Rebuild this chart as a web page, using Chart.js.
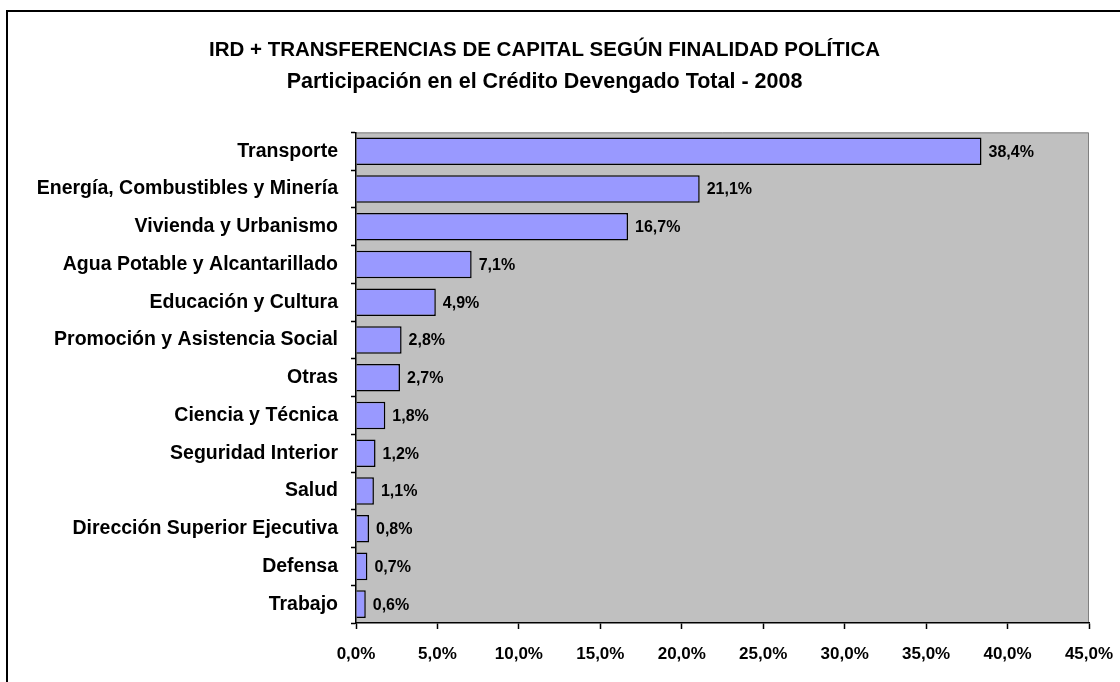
<!DOCTYPE html>
<html>
<head>
<meta charset="utf-8">
<script src="https://cdn.jsdelivr.net/npm/chart.js@4/dist/chart.umd.min.js"></script>
<style>
  html, body { margin: 0; padding: 0; background: #fff; }
  canvas { display: block; }
</style>
</head>
<body>
<canvas id="chart" width="1120" height="682"></canvas>
<script>
const categories = [
    'Transporte',
    'Energía, Combustibles y Minería',
    'Vivienda y Urbanismo',
    'Agua Potable y Alcantarillado',
    'Educación y Cultura',
    'Promoción y Asistencia Social',
    'Otras',
    'Ciencia y Técnica',
    'Seguridad Interior',
    'Salud',
    'Dirección Superior Ejecutiva',
    'Defensa',
    'Trabajo',
]
const shares = [38.4, 21.1, 16.7, 7.1, 4.9, 2.8, 2.7, 1.8, 1.2, 1.1, 0.8, 0.7, 0.6]
const xTicks = [0, 5, 10, 15, 20, 25, 30, 35, 40, 45]

const titleText = 'IRD + TRANSFERENCIAS DE CAPITAL SEGÚN FINALIDAD POLÍTICA'
const subtitleText = 'Participación en el Crédito Devengado Total - 2008'

const sans = '"Liberation Sans", Arial, sans-serif'

const pct = (v) => v.toFixed(1).replace('.', ',') + '%'

// gray plot area, its top/right frame and the outer chart border
const plotBackground = {
    id: 'plotBackground',
    beforeDraw(chart) {
        const { ctx, chartArea: a } = chart
        ctx.save()
        ctx.lineWidth = 2
        ctx.strokeStyle = '#000'
        ctx.strokeRect(7, 11, 2000, 2000)
        ctx.fillStyle = '#C0C0C0'
        ctx.fillRect(a.left, a.top, a.right - a.left, a.bottom - a.top)
        ctx.strokeStyle = '#808080'
        ctx.lineWidth = 1
        ctx.beginPath()
        ctx.moveTo(a.left, a.top + 0.5)
        ctx.lineTo(a.right - 0.5, a.top + 0.5)
        ctx.lineTo(a.right - 0.5, a.bottom)
        ctx.stroke()
        ctx.restore()
    },
}

const valueLabels = {
    id: 'valueLabels',
    afterDatasetsDraw(chart) {
        const { ctx } = chart
        const meta = chart.getDatasetMeta(0)
        ctx.save()
        ctx.fillStyle = '#000'
        ctx.font = 'bold 16px ' + sans
        ctx.textAlign = 'left'
        ctx.textBaseline = 'middle'
        meta.data.forEach((bar, i) => {
            ctx.fillText(pct(shares[i]), bar.x + 7, bar.y + 1)
        })
        ctx.restore()
    },
}

new Chart(document.getElementById('chart'), {
    type: 'bar',
    data: {
        labels: categories,
        datasets: [{
            data: shares,
            backgroundColor: '#9999FF',
            borderColor: '#000',
            borderWidth: 1.5,
            barPercentage: 0.73,
            categoryPercentage: 1,
        }],
    },
    options: {
        indexAxis: 'y',
        responsive: false,
        animation: false,
        layout: { padding: { left: 0, right: 31, top: 0, bottom: 0 } },
        plugins: {
            legend: { display: false },
            tooltip: { enabled: false },
            title: {
                display: true,
                text: titleText,
                color: '#000',
                font: { family: sans, size: 20.5, weight: 'bold' },
                padding: { top: 38, bottom: 7 },
            },
            subtitle: {
                display: true,
                text: subtitleText,
                color: '#000',
                font: { family: sans, size: 21.5, weight: 'bold' },
                padding: { top: 0, bottom: 37 },
            },
        },
        scales: {
            x: {
                min: 0,
                max: 45,
                afterBuildTicks(scale) {
                    scale.ticks = xTicks.map((v) => ({ value: v }))
                },
                afterFit(scale) {
                    scale.height = 59
                    // let the last label hang into the right padding
                    scale.paddingLeft = 0
                    scale.paddingRight = 0
                },
                grid: {
                    drawOnChartArea: false,
                    color: '#000',
                    tickLength: 6,
                    tickWidth: 1.5,
                },
                border: { color: '#000', width: 1.5 },
                ticks: {
                    color: '#000',
                    padding: 15,
                    maxRotation: 0,
                    font: { family: sans, size: 17, weight: 'bold' },
                    callback: (v) => pct(v),
                },
            },
            y: {
                afterFit(scale) {
                    scale.width = 356
                },
                grid: {
                    drawOnChartArea: false,
                    offset: true,
                    color: '#000',
                    tickLength: 5,
                    tickWidth: 1.5,
                },
                border: { color: '#000', width: 1.5 },
                ticks: {
                    color: '#000',
                    padding: 13,
                    autoSkip: false,
                    font: { family: sans, size: 19.5, weight: 'bold' },
                },
            },
        },
    },
    plugins: [plotBackground, valueLabels],
})
</script>
</body>
</html>
